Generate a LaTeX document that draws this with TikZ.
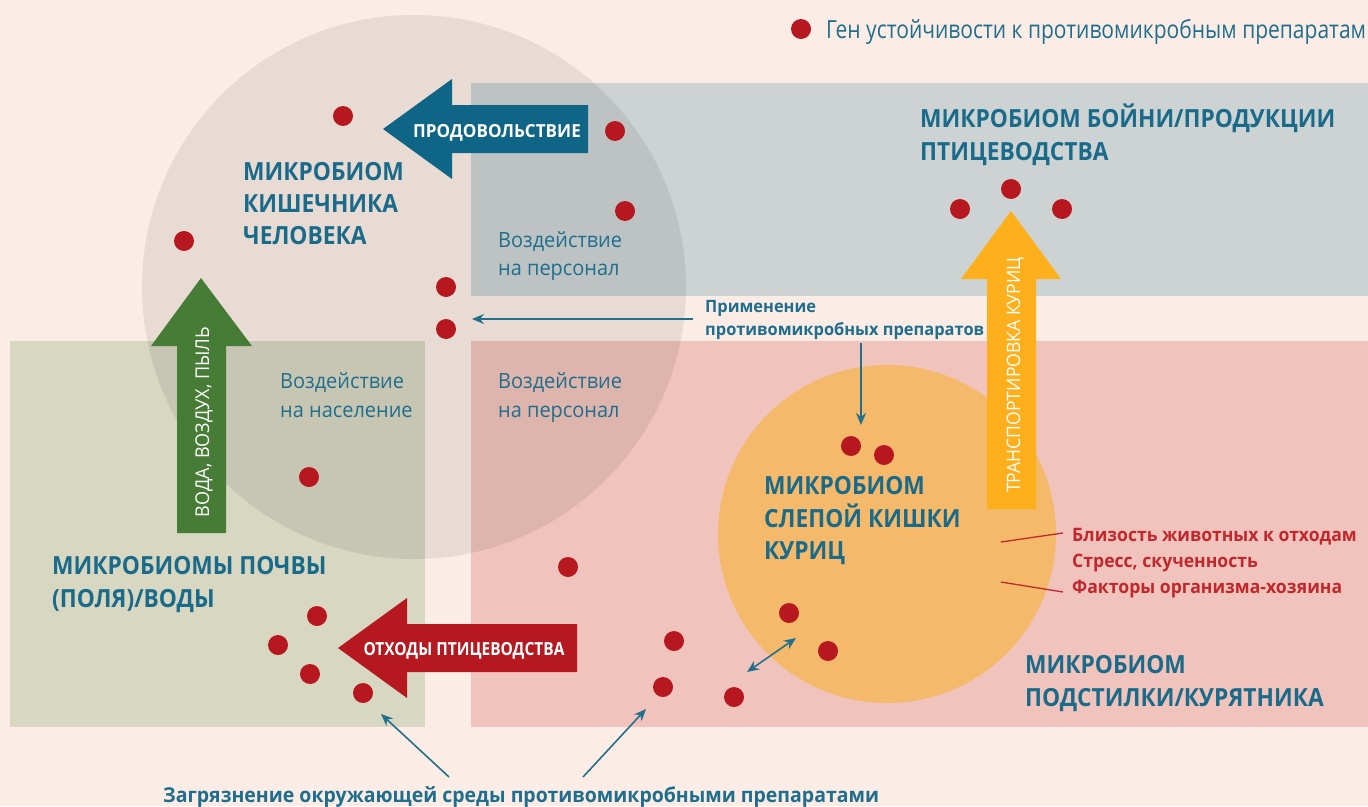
\documentclass[tikz,border=0pt]{standalone}
\usepackage{fontspec}
\setmainfont{Open Sans}
\newfontfamily\cnd[FakeStretch=0.86]{Open Sans}
\newfontfamily\fhead[FakeStretch=0.91]{Open Sans}
\newfontfamily\fnorm[FakeStretch=0.95]{Open Sans}
\newfontfamily\fleg[FakeStretch=0.84]{Open Sans}
\newfontfamily\fapp[FakeStretch=0.965]{Open Sans}
\usetikzlibrary{arrows.meta}
\definecolor{bgc}{HTML}{FBEDE5}
\definecolor{grayc}{HTML}{CDD3D3}
\definecolor{greenc}{HTML}{D8D7C2}
\definecolor{pinkc}{HTML}{F0C4BC}
\definecolor{orc}{HTML}{F4B96A}
\definecolor{orarrow}{HTML}{FDB01C}
\definecolor{grarrow}{HTML}{467C35}
\definecolor{blarrow}{HTML}{0E6586}
\definecolor{rdarrow}{HTML}{B5191F}
\definecolor{dotc}{HTML}{B7181F}
\definecolor{headc}{HTML}{1A6A8A}
\definecolor{txtc}{HTML}{1F6E8E}
\definecolor{redtxt}{HTML}{C1272D}
\definecolor{linec}{HTML}{23708D}
\tikzset{
  dot/.style={circle, fill=dotc, inner sep=0, minimum size=20pt},
  txt/.style={inner sep=0, anchor=base west},
  head/.style={txt, text=headc, font=\fhead\bfseries\fontsize{25}{25}\selectfont},
  reg/.style={txt, text=txtc, font=\fnorm\fontsize{21}{21}\selectfont},
  redl/.style={txt, text=redtxt, font=\fnorm\bfseries\fontsize{18.5}{18.5}\selectfont},
  arrtxt/.style={inner sep=0, anchor=base, text=white},
  conn/.style={draw=linec, line width=1.6pt, -{Stealth[length=12pt,width=10pt]}},
  redline/.style={draw=redtxt, line width=1.3pt}
}
\begin{document}
\begin{tikzpicture}[x=1pt,y=-1pt]
\fill[bgc] (0,0) rectangle (1368,806);
\useasboundingbox (0,0) rectangle (1368,806);
% regions
\fill[grayc] (471,83) rectangle (1368,296);
\fill[greenc] (10,341) rectangle (425,727);
\fill[pinkc] (471,341) rectangle (1368,727);
\fill[black, fill opacity=0.075] (414,287) circle[radius=272pt];
\fill[orc] (887,534) circle[radius=169pt];
% big arrows
\fill[grarrow] (201,278) -- (252,346) -- (226,346) -- (226,533) -- (177,533) -- (177,346) -- (151,346) -- cycle;
\fill[orarrow] (1011,211) -- (1061,279) -- (1036,279) -- (1036,509) -- (987,509) -- (987,279) -- (961,279) -- cycle;
\fill[blarrow] (383,129) -- (452,79) -- (452,105) -- (588,105) -- (588,153) -- (452,153) -- (452,179) -- cycle;
\fill[rdarrow] (338,648) -- (407,598) -- (407,624) -- (577,624) -- (577,672) -- (407,672) -- (407,698) -- cycle;
\node[arrtxt, font=\fnorm\bfseries\fontsize{18}{18}\selectfont] (tfood) at (497,137) {ПРОДОВОЛЬСТВИЕ};
\node[arrtxt, font=\cnd\bfseries\fontsize{18}{18}\selectfont] (twaste) at (464,655) {ОТХОДЫ ПТИЦЕВОДСТВА};
\node[arrtxt, rotate=90, font=\fnorm\fontsize{19}{19}\selectfont] (tair) at (209,422) {ВОДА, ВОЗДУХ, ПЫЛЬ};
\node[arrtxt, rotate=90, font=\fnorm\fontsize{18.5}{18.5}\selectfont] (ttrans) at (1020,375) {ТРАНСПОРТИРОВКА КУРИЦ};
% dots
\foreach \n/\x/\y in {a/343/116, b/615/131, c/625/211, d/184/241, e/446/287, f/446/329, g/309/477,
  h/568/567, i/317/616, j/278/645, k/310/674, l/363/693, m/674/641, n/663/687, o/734/697,
  p/789/613, q/828/651, r/851/446, s/884/455, t/1011/189, u/960/209, v/1062/209}
  \node[dot] (dot\n) at (\x,\y) {};
% legend
\node[dot] (legdot) at (801,29) {};
\node[txt, text=txtc, font=\fleg\fontsize{25}{25}\selectfont] (legtxt) at (826,38) {Ген устойчивости к противомикробным препаратам};
% headings
\node[head] (h1a) at (920,127) {МИКРОБИОМ БОЙНИ/ПРОДУКЦИИ};
\node[head] (h1b) at (920,160) {ПТИЦЕВОДСТВА};
\node[head] (h2a) at (243,180) {МИКРОБИОМ};
\node[head] (h2b) at (243,212) {КИШЕЧНИКА};
\node[head] (h2c) at (243,244) {ЧЕЛОВЕКА};
\node[head] (h3a) at (764,494) {МИКРОБИОМ};
\node[head] (h3b) at (764,527) {СЛЕПОЙ КИШКИ};
\node[head] (h3c) at (764,559) {КУРИЦ};
\node[head] (h4a) at (52,574) {МИКРОБИОМЫ ПОЧВЫ};
\node[head] (h4b) at (52,607) {(ПОЛЯ)/ВОДЫ};
\node[head] (h5a) at (1025,673) {МИКРОБИОМ};
\node[head] (h5b) at (1025,706) {ПОДСТИЛКИ/КУРЯТНИКА};
% regular labels
\node[reg] (r1a) at (498,247) {Воздействие};
\node[reg] (r1b) at (498,275) {на персонал};
\node[reg] (r2a) at (280,388) {Воздействие};
\node[reg] (r2b) at (280,417) {на население};
\node[reg] (r3a) at (498,388) {Воздействие};
\node[reg] (r3b) at (498,417) {на персонал};
% application label
\node[txt, text=txtc, font=\fapp\bfseries\fontsize{17}{17}\selectfont] (app1) at (705,312) {Применение};
\node[txt, text=txtc, font=\fapp\bfseries\fontsize{17}{17}\selectfont] (app2) at (705,335) {противомикробных препаратов};
% red factors
\node[redl] (f1) at (1072,541) {Близость животных к отходам};
\node[redl] (f2) at (1072,567) {Стресс, скученность};
\node[redl] (f3) at (1072,593) {Факторы организма-хозяина};
% bottom label
\node[txt, text=txtc, font=\fnorm\bfseries\fontsize{20.5}{20.5}\selectfont] (pollut) at (163,802) {Загрязнение окружающей среды противомикробными препаратами};
% connectors
\coordinate (appL) at (693,319);
\coordinate (appLt) at (472,319);
\coordinate (appD) at (861,343);
\coordinate (appDt) at (861,425);
\coordinate (polA) at (449,777);
\coordinate (polAt) at (381,714);
\coordinate (polB) at (583,777);
\coordinate (polBt) at (646,709);
\coordinate (dbl1) at (747,672);
\coordinate (dbl2) at (796,638);
\coordinate (fl1) at (1001,542);
\coordinate (fl1e) at (1063,533);
\coordinate (fl2) at (1001,582);
\coordinate (fl2e) at (1063,592);
\draw[conn] (appL) -- (appLt);
\draw[conn] (appD) -- (appDt);
\draw[conn] (polA) -- (polAt);
\draw[conn] (polB) -- (polBt);
\draw[conn, {Stealth[length=12pt,width=10pt]}-{Stealth[length=12pt,width=10pt]}] (dbl1) -- (dbl2);
\draw[redline] (fl1) -- (fl1e);
\draw[redline] (fl2) -- (fl2e);
\end{tikzpicture}
\end{document}
